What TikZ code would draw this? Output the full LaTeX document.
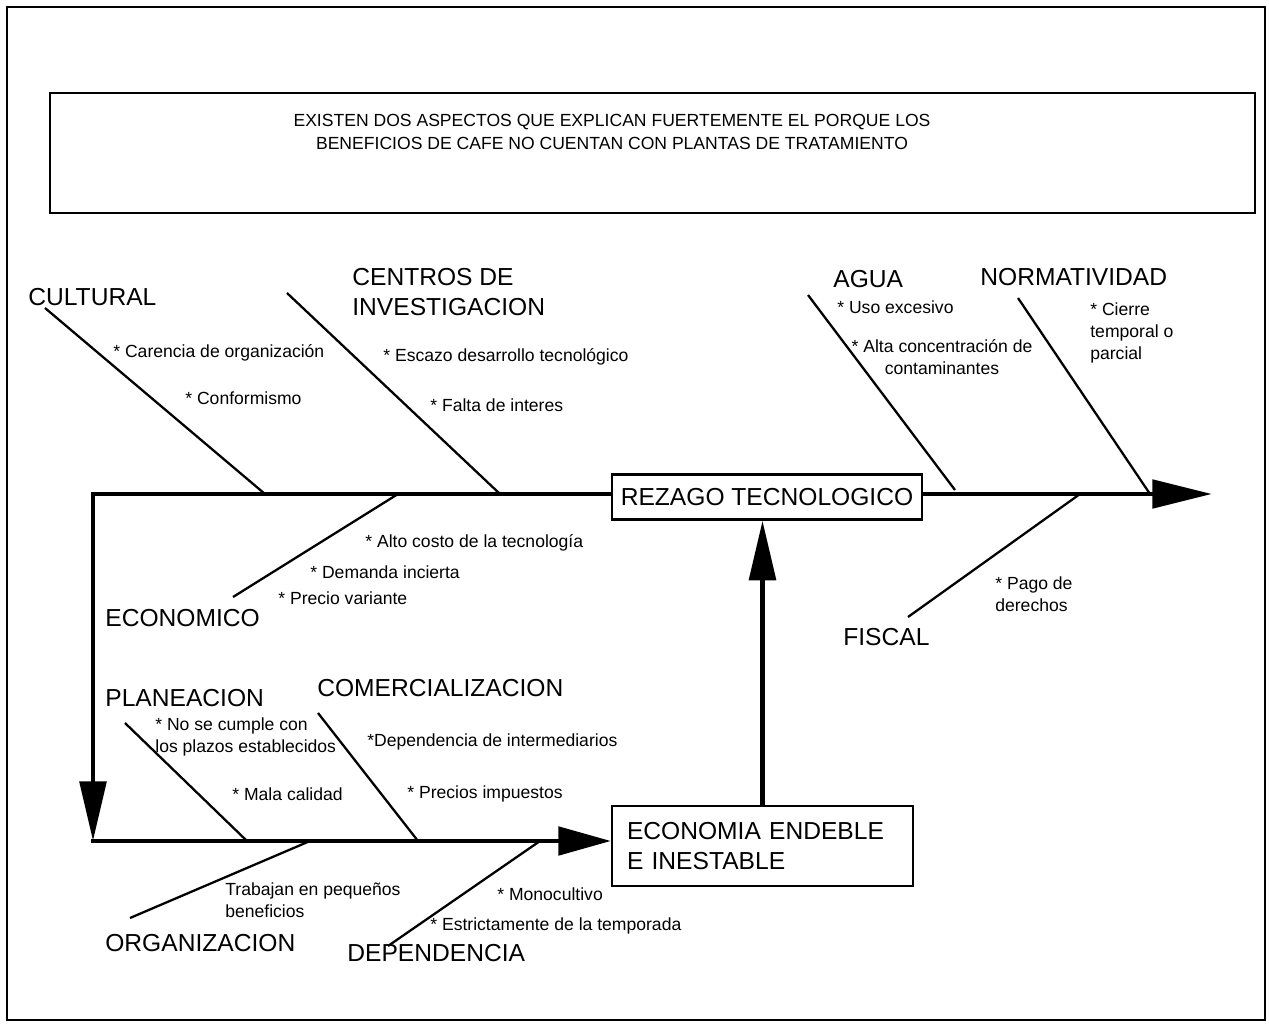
\documentclass[tikz,border=0pt]{standalone}
\usepackage{fontspec}
\setmainfont{Liberation Sans}
\usetikzlibrary{arrows.meta,positioning}

\tikzstyle{spine} = [line width=2.8pt,line cap=rect]
\tikzstyle{bone} = [line width=1.3pt]
\tikzstyle{cause} = [anchor=west,align=left,inner sep=0pt,font=\fontsize{14}{17.5}\selectfont]
\tikzstyle{item} = [anchor=west,align=left,inner sep=0pt,font=\fontsize{10}{12.5}\selectfont]
\tikzstyle{effect} = [draw=black,line width=1.2pt,rectangle,font=\fontsize{14}{17}\selectfont]
\tikzstyle{bighead} = [-{Triangle[length=34pt,width=16pt]}]

\begin{document}
\begin{tikzpicture}[x=0.02cm,y=-0.02cm]
	\useasboundingbox (0,0) rectangle (1269,1024);
	\draw[line width=1.1pt] (7,7) rectangle (1265,1020);
	% title
	\node (titlebox) [draw=black,line width=1pt,minimum width=24.1cm,minimum height=2.4cm] at (652.5,153) {};
	\node (title) [align=center,font=\fontsize{10}{13}\selectfont] at (612,132) {EXISTEN DOS ASPECTOS QUE EXPLICAN FUERTEMENTE EL PORQUE LOS\\BENEFICIOS DE CAFE NO CUENTAN CON PLANTAS DE TRATAMIENTO};
	% effects
	\node (rezago) [effect,minimum width=6.2cm,minimum height=0.9cm] at (767,497) {REZAGO TECNOLOGICO};
	\node (economia) [effect,align=left,text width=5.42cm,inner xsep=0.3cm,minimum height=1.6cm] at (762.5,846) {ECONOMIA ENDEBLE\\E INESTABLE};
	\coordinate (tail1) at (93,494);
	\coordinate (tail2) at (93,841);
	\coordinate (head) at (1212,494);
	% spines
	\draw[spine] (tail1) -- (tail1 -| rezago.west);
	\draw[spine,bighead] (tail1 -| rezago.east) -- (head);
	\draw[spine,-{Triangle[length=34pt,width=15pt]}] (tail1) -- (tail2);
	\draw[spine,-{Triangle[length=30pt,width=16pt]}] (tail2) -- (tail2 -| economia.west);
	\draw[spine,-{Triangle[length=34pt,width=15pt]}] (economia.north) -- (economia.north |- rezago.south);
	% causes
	\node (cultural) [cause] at (28,297) {CULTURAL};
	\node (centros) [cause] at (352,292) {CENTROS DE\\INVESTIGACION};
	\node (economico) [cause] at (105,618) {ECONOMICO};
	\node (agua) [cause] at (833,279) {AGUA};
	\node (normatividad) [cause] at (980,277) {NORMATIVIDAD};
	\node (fiscal) [cause] at (843,637) {FISCAL};
	\node (planeacion) [cause] at (105,698) {PLANEACION};
	\node (comercial) [cause] at (317,688) {COMERCIALIZACION};
	\node (organizacion) [cause] at (105,943) {ORGANIZACION};
	\node (dependencia) [cause] at (347,953) {DEPENDENCIA};
	% bones
	\coordinate (cultural-a) at (45,308);   \coordinate (cultural-b) at (265,494);
	\coordinate (centros-a) at (287,293);   \coordinate (centros-b) at (500,494);
	\coordinate (economico-a) at (233,597); \coordinate (economico-b) at (398,494);
	\coordinate (agua-a) at (808,295);      \coordinate (agua-b) at (955,490);
	\coordinate (normat-a) at (1018,298);   \coordinate (normat-b) at (1150,494);
	\coordinate (fiscal-a) at (908,617);    \coordinate (fiscal-b) at (1080,494);
	\coordinate (planea-a) at (125,723);    \coordinate (planea-b) at (247,841);
	\coordinate (comerc-a) at (318,713);    \coordinate (comerc-b) at (418,841);
	\coordinate (organiz-a) at (130,918);   \coordinate (organiz-b) at (310,841);
	\coordinate (depend-a) at (388,946);    \coordinate (depend-b) at (540,841);
	\draw[bone] (cultural-a) -- (cultural-b);
	\draw[bone] (centros-a) -- (centros-b);
	\draw[bone] (economico-a) -- (economico-b);
	\draw[bone] (agua-a) -- (agua-b);
	\draw[bone] (normat-a) -- (normat-b);
	\draw[bone] (fiscal-a) -- (fiscal-b);
	\draw[bone] (planea-a) -- (planea-b);
	\draw[bone] (comerc-a) -- (comerc-b);
	\draw[bone] (organiz-a) -- (organiz-b);
	\draw[bone] (depend-a) -- (depend-b);
	% items
	\node (carencia) [item] at (113,353) {* Carencia de organización};
	\node (conform) [item] at (185,398) {* Conformismo};
	\node (escazo) [item] at (383,357) {* Escazo desarrollo tecnológico};
	\node (falta) [item] at (430,405) {* Falta de interes};
	\node (costo) [item] at (365,543) {* Alto costo de la tecnología};
	\node (demanda) [item] at (310,572) {* Demanda incierta};
	\node (precio) [item] at (278,598) {* Precio variante};
	\node (uso) [item] at (837,307) {* Uso excesivo};
	\node (alta) [item,anchor=center,align=center] at (942,357) {* Alta concentración de\\contaminantes};
	\node (cierre) [item] at (1090,333) {* Cierre\\temporal o\\parcial};
	\node (pago) [item] at (995,594) {* Pago de\\derechos};
	\node (plazos) [item] at (155,737) {* No se cumple con\\los plazos establecidos};
	\node (mala) [item] at (232,794) {* Mala calidad};
	\node (interm) [item] at (367,742) {*Dependencia de intermediarios};
	\node (impuestos) [item] at (407,794) {* Precios impuestos};
	\node (trabajan) [item] at (225,900) {Trabajan en pequeños\\beneficios};
	\node (mono) [item] at (497,894) {* Monocultivo};
	\node (estrict) [item] at (430,926) {* Estrictamente de la temporada};
\end{tikzpicture}
\end{document}
